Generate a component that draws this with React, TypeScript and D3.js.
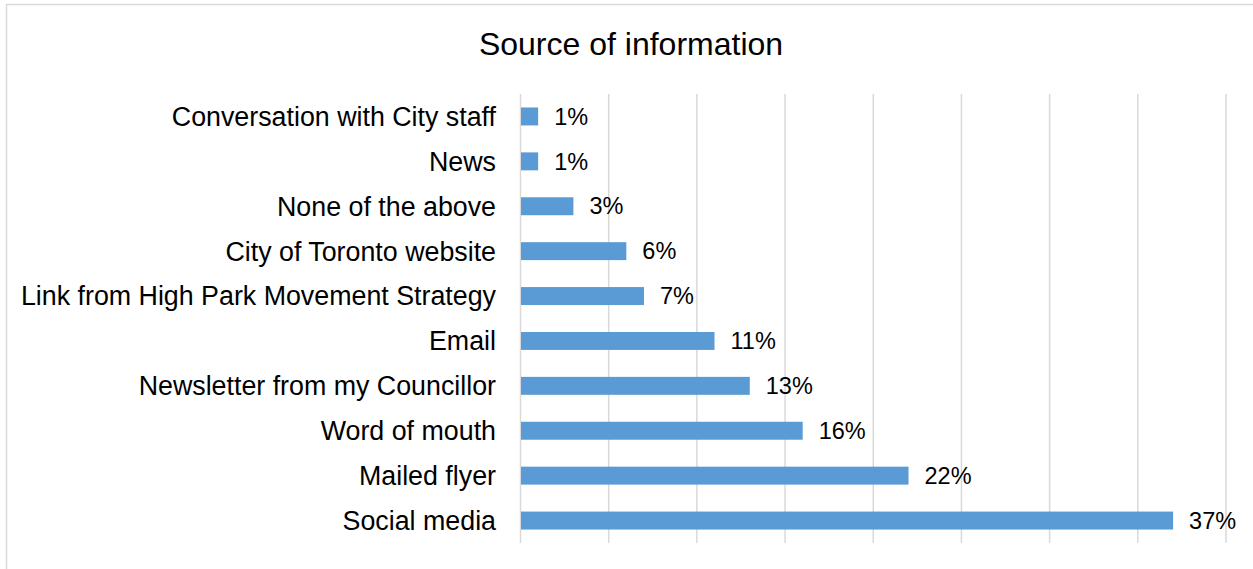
import React from "react";
import * as d3 from "d3";

const categories = [
  "Conversation with City staff",
  "News",
  "None of the above",
  "City of Toronto website",
  "Link from High Park Movement Strategy",
  "Email",
  "Newsletter from my Councillor",
  "Word of mouth",
  "Mailed flyer",
  "Social media",
];
const values = [1, 1, 3, 6, 7, 11, 13, 16, 22, 37];
const ticks = [0, 5, 10, 15, 20, 25, 30, 35, 40];
const title = "Source of information";

const W = 1253;
const H = 569;
const FONT = "'Liberation Sans', Arial, sans-serif";

export default function App() {
  const x = d3.scaleLinear().domain([0, 40]).range([520.5, 1226]);
  const y = d3
    .scaleBand<string>()
    .domain(categories)
    .range([94, 543])
    .paddingInner(0.6)
    .paddingOuter(0.3);
  const bw = y.bandwidth();

  return (
    <svg
      width={W}
      height={H}
      style={{ position: "absolute", left: 0, top: 0, background: "#fff" }}
    >
      <rect x={6.5} y={4.5} width={W + 10} height={H + 10} fill="#fff" stroke="#d9d9d9" strokeWidth={1.5} />
      <text x={631} y={55} textAnchor="middle" fontFamily={FONT} fontSize={32} fill="#000">
        {title}
      </text>
      {ticks.map((t) => (
        <line key={t} x1={x(t)} x2={x(t)} y1={94} y2={543} stroke="#d9d9d9" strokeWidth={1.5} />
      ))}
      {categories.map((c, i) => {
        const yc = (y(c) as number) + bw / 2;
        return (
          <g key={c}>
            <rect x={x(0) + 0.5} y={y(c)} width={x(values[i]) - x(0) - 0.5} height={bw} fill="#5b9bd5" />
            <text x={496} y={yc} dy="0.35em" textAnchor="end" fontFamily={FONT} fontSize={26.8} fill="#000">
              {c}
            </text>
            <text x={x(values[i]) + 16} y={yc} dy="0.35em" fontFamily={FONT} fontSize={23.5} fill="#000">
              {values[i] + "%"}
            </text>
          </g>
        );
      })}
    </svg>
  );
}
